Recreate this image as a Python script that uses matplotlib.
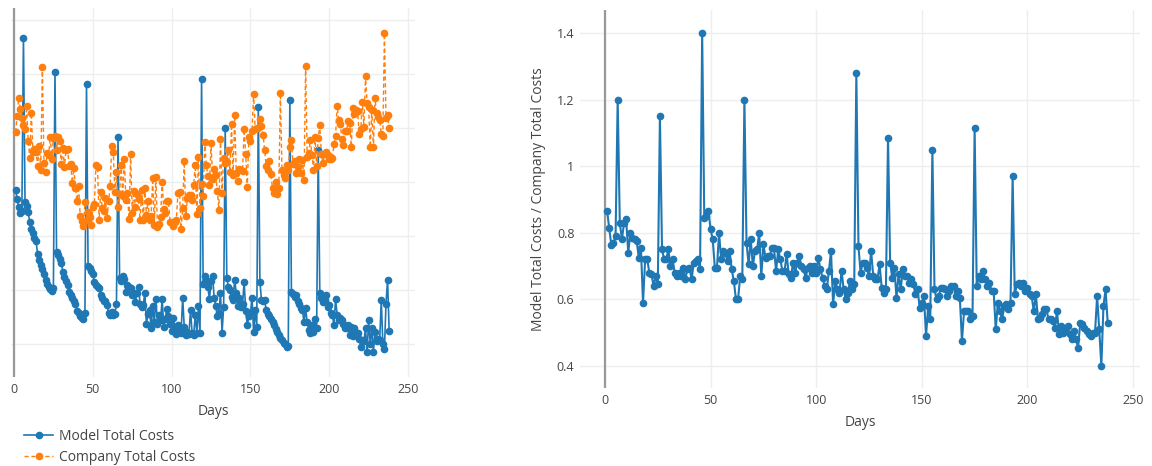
import numpy as np
import matplotlib
matplotlib.use("Agg")
from matplotlib import pyplot as plt


# Values (days 1..238)

days = np.arange(1, 239)

# left panel, y scale has no labels, so the units are arbitrary
model_costs = [
    6.86, 6.68, 6.53, 6.43, 6.46,
    9.67,
    6.62, 6.55, 6.44, 6.26, 6.13, 6.05, 5.97, 5.90, 5.66, 5.56, 5.46, 5.38, 5.30, 5.18, 5.12, 5.06, 5.02, 4.98, 5.04,
    9.04,
    5.70, 5.64, 5.58, 5.50, 5.34, 5.24, 5.16, 5.10, 4.96, 4.91, 4.85, 4.79, 4.75, 4.62, 4.57, 4.52, 4.48, 4.46, 4.57,
    8.81,
    5.44, 5.40, 5.36, 5.30, 5.14, 5.09, 5.06, 5.03, 4.90, 4.85, 4.79, 4.80, 4.72, 4.58, 4.53, 4.60, 4.53, 4.56, 4.74,
    7.84,
    5.22, 5.16, 5.26, 5.20, 4.97, 5.09, 5.05, 5.03, 4.91, 4.95, 4.77, 4.95, 5.05, 4.75, 4.69, 4.72, 4.95, 4.38,
    4.55, 4.63, 4.30, 4.70, 4.40, 4.83, 4.38, 4.54, 4.45, 4.83, 4.32, 4.47, 4.65, 4.52, 4.38, 4.25, 4.49, 4.32,
    4.18, 4.35, 4.29, 4.20, 4.86, 4.32, 4.17, 4.22, 4.19, 4.63, 4.20, 4.17, 4.54, 4.20, 4.70, 4.20,
    8.91,
    5.12, 5.26, 5.19, 5.05, 4.83, 5.17, 5.26, 4.85, 4.70, 4.51, 4.57, 4.95, 4.21, 4.69,
    7.99,
    5.23, 5.05, 5.00, 4.88, 4.81, 5.19, 4.95, 4.70, 4.85, 4.69, 4.75, 5.15, 4.62, 4.35, 4.51, 4.57, 4.85, 4.23,
    4.63, 4.32,
    8.39,
    5.15, 4.82, 4.80, 4.82, 4.63, 4.55, 4.51, 4.46, 4.40, 4.35, 4.27, 4.23, 4.17, 4.11, 4.08, 4.02, 4.00, 3.95, 3.97,
    8.52,
    4.97, 4.92, 4.88, 4.91, 4.80, 4.75, 4.66, 4.63, 4.40, 4.66, 4.40, 4.26, 4.20, 4.35, 4.23, 4.47, 4.30,
    7.59,
    4.95, 4.85, 4.78, 4.81, 4.91, 4.69, 4.72, 4.57, 4.54, 4.35, 4.83, 4.54, 4.44, 4.48, 4.44, 4.38, 4.29, 4.29,
    4.35, 4.17, 4.32, 4.14, 4.29, 4.17, 4.20, 4.10, 3.95, 4.07, 4.05, 4.30, 3.85, 4.44, 4.01, 4.29, 3.86, 4.23,
    4.05, 4.10, 4.07, 4.81, 4.01, 3.90, 4.75, 5.19, 4.24,
]

company_costs = [
    7.92, 8.22, 8.56, 8.35, 8.18,
    8.06,
    7.98, 8.40, 7.76, 7.45, 8.28, 7.56, 7.61, 7.56, 7.30, 7.67, 7.23, 9.12, 7.36, 7.19, 7.53, 7.50, 7.84, 7.43, 7.81,
    7.86,
    7.60, 7.83, 7.75, 7.33, 7.63, 7.28, 7.59, 7.61, 7.29, 7.33, 6.98, 7.26, 6.88, 6.65, 6.92, 6.37, 6.27, 6.19, 6.62,
    6.29,
    6.44, 6.35, 6.20, 6.54, 6.59, 7.32, 7.28, 6.29, 6.81, 6.51, 6.47, 6.71, 6.34, 6.64, 6.92, 7.67, 7.55, 6.81, 7.18,
    6.53,
    6.78, 7.32, 6.74, 7.43, 6.67, 6.79, 6.31, 7.51, 6.42, 6.83, 6.53, 6.78, 6.69, 6.29, 6.85, 6.29, 6.88, 6.39,
    6.64, 6.30, 6.37, 7.07, 6.20, 7.10, 6.17, 6.22, 6.36, 7.00, 6.50, 6.43, 6.64, 6.65, 6.26, 6.25, 6.19, 6.26,
    6.29, 6.80, 6.81, 6.13, 6.52, 7.38, 6.37, 6.70, 6.76, 6.76, 6.67, 6.95, 7.32, 6.41, 7.46, 6.51,
    6.96,
    6.74, 7.74, 7.31, 7.11, 6.95, 7.72, 7.06, 7.24, 7.12, 6.83, 6.48, 7.80, 6.79, 7.44,
    7.36,
    7.37, 7.59, 7.19, 8.07, 7.13, 8.24, 7.17, 7.01, 7.24, 7.22, 7.20, 7.98, 7.51, 6.90, 7.84, 7.75, 7.95, 8.63,
    7.98, 8.00,
    7.99,
    8.17, 8.03, 7.87, 7.59, 7.29, 7.22, 7.39, 7.14, 6.88, 6.80, 7.00, 6.77, 6.89, 8.65, 7.22, 7.12, 7.08, 7.31, 7.22,
    7.64,
    7.77, 7.34, 7.39, 7.17, 7.27, 7.42, 7.17, 7.41, 7.04, 9.14, 7.46, 7.54, 7.78, 7.50, 7.23, 7.84, 7.29,
    7.82,
    8.05, 7.52, 7.35, 7.52, 7.55, 7.50, 7.43, 7.43, 7.44, 7.70, 7.85, 8.41, 8.15, 8.07, 7.79, 7.68, 7.94, 7.94,
    8.13, 8.10, 7.65, 8.36, 8.25, 8.34, 8.32, 7.88, 7.98, 8.48, 8.02, 8.96, 8.46, 8.38, 7.64, 8.33, 7.64, 8.55,
    8.27, 8.20, 8.14, 7.89, 7.86, 9.75, 8.19, 8.24, 8.00,
]

# right panel: model / company
cost_ratio = [
    0.866, 0.813, 0.763, 0.77, 0.79, 1.20,
    0.83, 0.78, 0.83, 0.84, 0.74, 0.80, 0.785, 0.78, 0.775, 0.725, 0.755, 0.59, 0.72, 0.72, 0.68, 0.675, 0.64,
    0.67, 0.645,
    1.15,
    0.75, 0.72, 0.72, 0.75, 0.70, 0.72, 0.68, 0.67, 0.68, 0.67, 0.695, 0.66, 0.69, 0.695, 0.66, 0.71, 0.715,
    0.72, 0.69,
    1.40,
    0.845, 0.85, 0.865, 0.81, 0.78, 0.695, 0.695, 0.80, 0.72, 0.745, 0.74, 0.715, 0.745, 0.69, 0.655, 0.60,
    0.60, 0.67, 0.66,
    1.20,
    0.77, 0.705, 0.78, 0.70, 0.745, 0.75, 0.80, 0.67, 0.765, 0.725, 0.73, 0.73, 0.755,
    0.755, 0.685, 0.75, 0.72, 0.685, 0.685, 0.735, 0.675, 0.665, 0.71, 0.68, 0.71, 0.73, 0.70, 0.69, 0.665,
    0.695, 0.70, 0.68, 0.70, 0.68,
    0.725, 0.69, 0.665, 0.64, 0.63, 0.685, 0.745, 0.585, 0.655, 0.63, 0.62, 0.685, 0.63, 0.60, 0.62, 0.655,
    0.63, 0.645,
    1.28,
    0.76, 0.68, 0.71, 0.71, 0.695, 0.67, 0.745, 0.67, 0.66, 0.66, 0.705, 0.635, 0.62, 0.63,
    1.085,
    0.71, 0.665, 0.695, 0.605, 0.675, 0.63, 0.69, 0.67, 0.67, 0.65, 0.66, 0.645, 0.615, 0.63, 0.575, 0.59,
    0.61, 0.49, 0.58, 0.54,
    1.05,
    0.63, 0.60, 0.61, 0.635,
    0.635, 0.63, 0.61, 0.625, 0.64, 0.64, 0.61, 0.625, 0.605, 0.475, 0.565, 0.565, 0.565, 0.54, 0.55,
    1.115,
    0.64, 0.67, 0.66, 0.685, 0.66, 0.64, 0.65, 0.625, 0.625, 0.51, 0.59, 0.565, 0.54, 0.58, 0.585, 0.57, 0.59,
    0.97,
    0.615, 0.645, 0.65, 0.64, 0.65, 0.625, 0.635, 0.615, 0.61, 0.565, 0.615, 0.54, 0.545, 0.555, 0.57, 0.57,
    0.54, 0.54, 0.535, 0.515, 0.565, 0.495, 0.52, 0.50, 0.505, 0.52, 0.495, 0.48, 0.505, 0.48, 0.455, 0.53,
    0.525, 0.515, 0.505, 0.495, 0.49, 0.50, 0.50, 0.61, 0.51, 0.40, 0.58, 0.63, 0.53,
]

x_ticks = [0, 50, 100, 150, 200, 250]
ratio_ticks = [0.4, 0.6, 0.8, 1.0, 1.2, 1.4]
ratio_tick_labels = ['0.4', '0.6', '0.8', '1', '1.2', '1.4']

BLUE = '#1f77b4'
ORANGE = '#ff7f0e'
TEXT = '#444444'

plt.rcParams['font.family'] = ['Open Sans', 'DejaVu Sans']

W, H = 1152, 466
fig = plt.figure(figsize=(W / 100, H / 100), dpi=100)


def axes_px(left, top, right, bottom):
    # place an axes by pixel edges
    return fig.add_axes([left / W, 1 - bottom / H, (right - left) / W, (bottom - top) / H])


def plotly_look(ax):
    for s in ax.spines.values():
        s.set_visible(False)
    ax.grid(True, color='#eeeeee', linewidth=1)
    ax.set_axisbelow(True)
    ax.tick_params(length=0, colors=TEXT, labelsize=9)
    ax.axvline(0, color='#999999', linewidth=1.6, zorder=1)
    ax.set_xticks(x_ticks)


# left: costs
ax1 = axes_px(11, 8, 415, 377)
plotly_look(ax1)
ax1.plot(days, model_costs, color=BLUE, linewidth=1.2, marker='o', markersize=4.5,
         label='Model Total Costs', zorder=3)
ax1.plot(days, company_costs, color=ORANGE, linewidth=1.0, linestyle=(0, (3, 2)),
         marker='o', markersize=4.5, label='Company Total Costs', zorder=4)
ax1.set_xlim(-1.9, 254.4)
ax1.set_ylim(3.39, 10.22)
ax1.set_yticks(range(4, 11))
ax1.tick_params(axis='y', labelleft=False)
ax1.tick_params(axis='x', pad=4)
ax1.set_xlabel('Days', color=TEXT, fontsize=10, labelpad=6)

# right: ratio
ax2 = axes_px(580, 10, 1140, 388)
plotly_look(ax2)
ax2.plot(days, cost_ratio, color=BLUE, linewidth=1.5, marker='o', markersize=4.5, zorder=3)
ax2.set_xlim(-11.84, 253.3)
ax2.set_ylim(0.334, 1.469)
ax2.set_yticks(ratio_ticks)
ax2.set_yticklabels(ratio_tick_labels)
ax2.tick_params(axis='x', pad=4)
ax2.tick_params(axis='y', pad=4)
ax2.set_xlabel('Days', color=TEXT, fontsize=10, labelpad=6)
ax2.set_ylabel('Model Total Costs / Company Total Costs', color=TEXT, fontsize=10, labelpad=8)

handles, labels = ax1.get_legend_handles_labels()
fig.legend(handles, labels, loc='upper left', bbox_to_anchor=(24 / W, 1 - 429 / H),
           frameon=False, fontsize=10, handlelength=2.1, handletextpad=0.4,
           labelspacing=0.4, borderpad=0, borderaxespad=0, labelcolor=TEXT)

fig.savefig('out.png', dpi=100)
